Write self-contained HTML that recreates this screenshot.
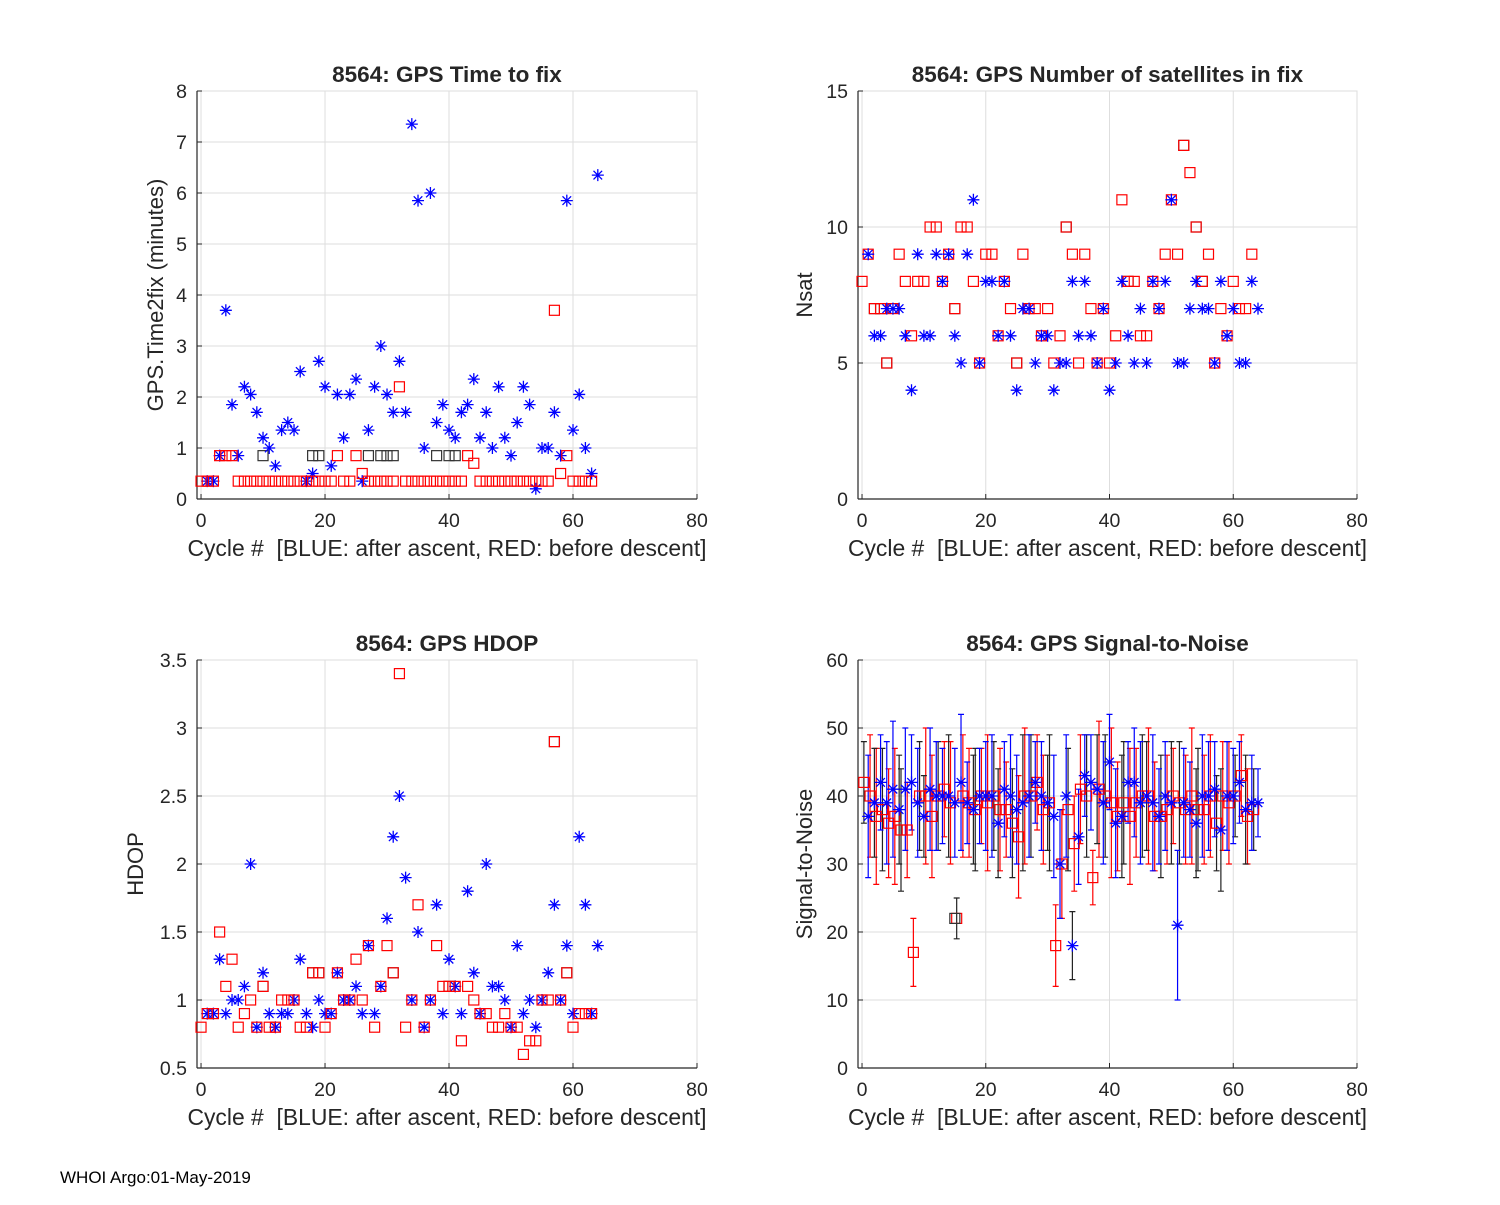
<!DOCTYPE html>
<html><head><meta charset="utf-8"><style>
body{margin:0;background:#fff;}
svg text{font-family:"Liberation Sans",Arial,sans-serif;fill:#262626;}
</style></head><body>
<svg id="fig" width="1500" height="1200" viewBox="0 0 1500 1200" xmlns="http://www.w3.org/2000/svg">
<rect width="1500" height="1200" fill="#fff"/>
<text x="60" y="1183" font-size="17" style="fill:#000">WHOI Argo:01-May-2019</text>
</svg>
<script>
// ---- data ----
const blueCycles=[1,2,3,4,5,6,7,8,9,10,11,12,13,14,15,16,17,18,19,20,21,22,23,24,25,26,27,28,29,30,31,32,33,34,35,36,37,38,39,40,41,42,43,44,45,46,47,48,49,50,51,52,53,54,55,56,57,58,59,60,61,62,63,64];
const redCycles=[0,1,2,3,4,5,6,7,8,9,10,11,12,13,14,15,16,17,18,19,20,21,22,23,24,25,26,27,28,29,30,31,32,33,34,35,36,37,38,39,40,41,42,43,44,45,46,47,48,49,50,51,52,53,54,55,56,57,58,59,60,61,62,63];

const fixBlue=[0.35,0.35,0.85,3.7,1.85,0.85,2.2,2.05,1.7,1.2,1.0,0.65,1.35,1.5,1.35,2.5,0.35,0.5,2.7,2.2,0.65,2.05,1.2,2.05,2.35,0.35,1.35,2.2,3.0,2.05,1.7,2.7,1.7,7.35,5.85,1.0,6.0,1.5,1.85,1.35,1.2,1.7,1.85,2.35,1.2,1.7,1.0,2.2,1.2,0.85,1.5,2.2,1.85,0.2,1.0,1.0,1.7,0.85,5.85,1.35,2.05,1.0,0.5,6.35];
const fixRed=[0.35,0.35,0.35,0.85,0.85,0.85,0.35,0.35,0.35,0.35,0.35,0.35,0.35,0.35,0.35,0.35,0.35,0.35,0.35,0.35,0.35,0.35,0.85,0.35,0.35,0.85,0.5,0.35,0.35,0.35,0.35,0.35,2.2,0.35,0.35,0.35,0.35,0.35,0.35,0.35,0.35,0.35,0.35,0.85,0.7,0.35,0.35,0.35,0.35,0.35,0.35,0.35,0.35,0.35,0.35,0.35,0.35,3.7,0.5,0.85,0.35,0.35,0.35,0.35];
const fixBlackCycles=[10,18,19,27,29,30,31,38,40,41];
const fixBlack=[0.85,0.85,0.85,0.85,0.85,0.85,0.85,0.85,0.85,0.85];

const nsatBlue=[9,6,6,7,7,7,6,4,9,6,6,9,8,9,6,5,9,11,5,8,8,6,8,6,4,7,7,5,6,6,4,5,5,8,6,8,6,5,7,4,5,8,6,5,7,5,8,7,8,11,5,5,7,8,7,7,5,8,6,7,5,5,8,7];
const nsatRed=[8,9,7,7,5,7,9,8,6,8,8,10,10,8,9,7,10,10,8,5,9,9,6,8,7,5,9,7,7,6,7,5,6,10,9,5,9,7,5,7,5,6,11,8,8,6,6,8,7,9,11,9,13,12,10,8,9,5,7,6,8,7,7,9];
const nsatBlackCycles=[2,3,4,15,25,33,43,52,54,55];
const nsatBlack=[7,7,5,7,5,10,8,13,10,8];

const hdopBlue=[0.9,0.9,1.3,0.9,1.0,1.0,1.1,2.0,0.8,1.2,0.9,0.8,0.9,0.9,1.0,1.3,0.9,0.8,1.0,0.9,0.9,1.2,1.0,1.0,1.1,0.9,1.4,0.9,1.1,1.6,2.2,2.5,1.9,1.0,1.5,0.8,1.0,1.7,0.9,1.3,1.1,0.9,1.8,1.2,0.9,2.0,1.1,1.1,1.0,0.8,1.4,0.9,1.0,0.8,1.0,1.2,1.7,1.0,1.4,0.9,2.2,1.7,0.9,1.4];
const hdopRed=[0.8,0.9,0.9,1.5,1.1,1.3,0.8,0.9,1.0,0.8,1.1,0.8,0.8,1.0,1.0,1.0,0.8,0.8,1.2,1.2,0.8,0.9,1.2,1.0,1.0,1.3,1.0,1.4,0.8,1.1,1.4,1.2,3.4,0.8,1.0,1.7,0.8,1.0,1.4,1.1,1.1,1.1,0.7,1.1,1.0,0.9,0.9,0.8,0.8,0.9,0.8,0.8,0.6,0.7,0.7,1.0,1.0,2.9,1.0,1.2,0.8,0.9,0.9,0.9];
const hdopBlackCycles=[10,18,19,31,40,57,59];
const hdopBlack=[1.1,1.2,1.2,1.2,1.1,2.9,1.2];

const snrBlue=[37,39,42,39,41,38,41,42,39,37,41,40,40,40,39,42,39,38,40,40,40,36,41,40,38,39,40,42,40,39,37,30,40,18,34,43,42,41,39,45,36,37,42,42,39,40,39,37,40,39,21,39,38,36,40,40,41,35,40,40,42,38,39,39];
const snrBlueErr=[9,8,7,9,10,8,9,7,8,6,9,8,7,9,8,10,6,8,7,8,9,8,7,9,8,10,9,6,8,7,9,8,9,5,7,6,7,8,9,7,8,9,6,8,9,8,10,7,8,9,11,8,7,8,9,8,7,9,8,7,6,8,7,5];
const snrRed=[42,40,37,38,36,37,35,35,17,40,40,37,40,41,39,22,40,39,38,40,39,40,38,38,36,34,40,40,42,38,39,18,30,38,33,41,40,28,41,40,39,37,39,37,39,40,40,37,37,38,40,39,38,40,38,38,40,36,40,39,40,43,37,38];
const snrRedErr=[6,9,10,9,8,10,9,7,5,8,10,9,8,7,9,3,9,8,9,7,10,8,9,7,8,9,10,9,7,8,10,6,8,9,7,8,9,4,10,9,11,8,9,10,8,9,10,8,9,8,7,9,8,10,9,8,9,7,8,9,6,6,7,6];
const snrBlackCycles=[15];
const snrBlack=[22];

const xTicks=[0,20,40,60,80];
const ticks1=[0,1,2,3,4,5,6,7,8];
const ticks2=[0,5,10,15];
const ticks3=[0.5,1,1.5,2,2.5,3,3.5];
const ticks4=[0,10,20,30,40,50,60];

// ---- rendering ----
const NS='http://www.w3.org/2000/svg';
const svg=document.getElementById('fig');
function mk(tag,attrs,parent){const e=document.createElementNS(NS,tag);for(const k in attrs)e.setAttribute(k,attrs[k]);(parent||svg).appendChild(e);return e;}

function panel(name,L,T,W,H,ymin,ymax,yticks,title,ylabel){
  const g=mk('g',{});
  
  
  const xmin=-0.65,xmax=80;
  const sx=v=>L+(v-xmin)/(xmax-xmin)*W;
  const sy=v=>T+H-(v-ymin)/(ymax-ymin)*H;
  mk('rect',{x:L,y:T,width:W,height:H,fill:'#fff',stroke:'#dcdcdc','stroke-width':1},g);
  xTicks.forEach(t=>{const x=sx(t);
    mk('line',{x1:x,y1:T,x2:x,y2:T+H,stroke:'#dedede','stroke-width':1},g);
    mk('line',{x1:x,y1:T+H,x2:x,y2:T+H-5,stroke:'#262626'},g);
    const tx=mk('text',{x:x,y:T+H+28,'font-size':19.5,'text-anchor':'middle'},g);tx.textContent=t;
    
    
  });
  yticks.forEach(t=>{const y=sy(t);
    mk('line',{x1:L,y1:y,x2:L+W,y2:y,stroke:'#dedede','stroke-width':1},g);
    mk('line',{x1:L,y1:y,x2:L+5,y2:y,stroke:'#262626'},g);
    const tx=mk('text',{x:L-10,y:y+7,'font-size':19.5,'text-anchor':'end'},g);tx.textContent=t;
    
    
  });
  mk('line',{x1:L,y1:T,x2:L,y2:T+H,stroke:'#262626','stroke-width':1.2},g);
  mk('line',{x1:L,y1:T+H,x2:L+W,y2:T+H,stroke:'#262626','stroke-width':1.2},g);
  const tt=mk('text',{x:L+W/2,y:T-9,'font-size':22.5,'font-weight':'bold','text-anchor':'middle'},g);tt.textContent=title;
  
  
  const xl=mk('text',{x:L+W/2,y:T+H+57,'font-size':22.9,'text-anchor':'middle',style:'white-space:pre'},g);xl.textContent='Cycle #  [BLUE: after ascent, RED: before descent]';
  
  
  const yl=mk('text',{x:0,y:0,'font-size':22,'text-anchor':'middle',transform:`translate(${ylabel[1]},${T+H/2}) rotate(-90)`},g);yl.textContent=ylabel[0];
  
  
  return {g,sx,sy};
}
function square(p,x,y,color){
  const r=mk('rect',{x:p.sx(x)-5,y:p.sy(y)-5,width:10,height:10,fill:'none',stroke:color,'stroke-width':1.2},p.g);
  
  
}
function star(p,x,y,color){
  const cx=p.sx(x),cy=p.sy(y),s=6;
  const e=mk('path',{d:`M${cx-s} ${cy}H${cx+s}M${cx} ${cy-s}V${cy+s}M${cx-4.3} ${cy-4.3}L${cx+4.3} ${cy+4.3}M${cx-4.3} ${cy+4.3}L${cx+4.3} ${cy-4.3}`,stroke:color,'stroke-width':1.3,fill:'none'},p.g);
  
  
}
function errbar(p,x,y,e,color){
  const cx=p.sx(x),y1=p.sy(y-e),y2=p.sy(y+e);
  const b=mk('path',{d:`M${cx} ${y1}V${y2}M${cx-3} ${y1}H${cx+3}M${cx-3} ${y2}H${cx+3}`,stroke:color,'stroke-width':1.2,fill:'none'},p.g);
  
  
}

const p1=panel('time-to-fix-panel',197,91,500,408,0,8,ticks1,'8564: GPS Time to fix',['GPS.Time2fix (minutes)',163]);
fixBlackCycles.forEach((c,i)=>square(p1,c,fixBlack[i],'#333'));
blueCycles.forEach((c,i)=>star(p1,c,fixBlue[i],'#0000ff'));
redCycles.forEach((c,i)=>square(p1,c,fixRed[i],'#ff0000'));

const p2=panel('nsat-panel',858,91,499,408,0,15,ticks2,'8564: GPS Number of satellites in fix',['Nsat',812]);
nsatBlackCycles.forEach((c,i)=>square(p2,c,nsatBlack[i],'#333'));
redCycles.forEach((c,i)=>square(p2,c,nsatRed[i],'#ff0000'));
blueCycles.forEach((c,i)=>star(p2,c,nsatBlue[i],'#0000ff'));

const p3=panel('hdop-panel',197,660,500,408,0.5,3.5,ticks3,'8564: GPS HDOP',['HDOP',143]);
hdopBlackCycles.forEach((c,i)=>square(p3,c,hdopBlack[i],'#333'));
blueCycles.forEach((c,i)=>star(p3,c,hdopBlue[i],'#0000ff'));
redCycles.forEach((c,i)=>square(p3,c,hdopRed[i],'#ff0000'));

const p4=panel('snr-panel',858,660,499,408,0,60,ticks4,'8564: GPS Signal-to-Noise',['Signal-to-Noise',812]);
redCycles.forEach((c,i)=>{errbar(p4,c+0.3,snrRed[i],snrRedErr[i],(i%3==0)?'#222':'#ff0000');});
blueCycles.forEach((c,i)=>{errbar(p4,c,snrBlue[i],snrBlueErr[i],(i%4==1)?'#222':'#0000ff');});
redCycles.forEach((c,i)=>square(p4,c+0.3,snrRed[i],'#ff0000'));
snrBlackCycles.forEach((c,i)=>square(p4,c,snrBlack[i],'#333'));
blueCycles.forEach((c,i)=>star(p4,c,snrBlue[i],'#0000ff'));
</script>
</body></html>
